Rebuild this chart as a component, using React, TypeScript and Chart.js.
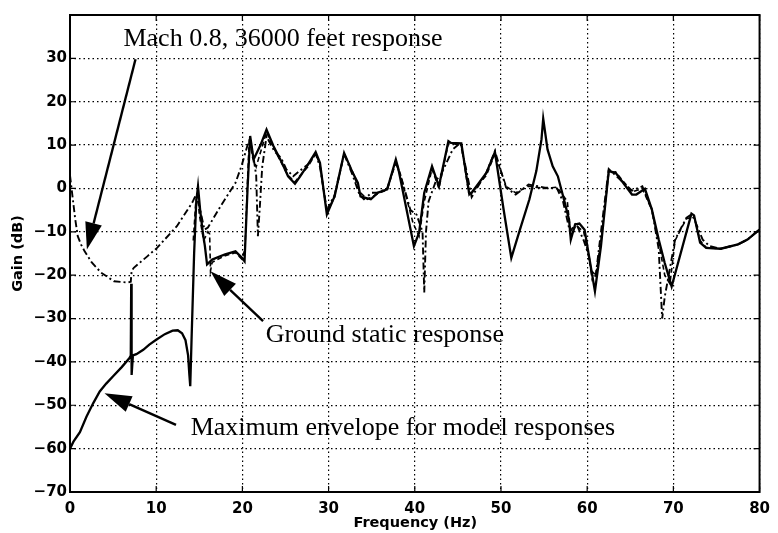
import React, { useEffect, useRef } from "react";
import { Chart, registerables } from "chart.js";

Chart.register(...registerables);

// ---- data ----
const envFreq = [0, 0.4, 1.15, 1.92, 2.7, 3.45, 4.2, 5, 6, 6.9, 7.05, 7.1, 7.15, 7.3, 7.7, 8.5, 9.2, 10, 11, 11.9, 12.5, 13, 13.4, 13.7, 13.85, 13.95, 14.1, 14.4, 14.65, 14.85, 15.1, 15.4, 15.65, 15.9, 16.5, 17.2, 18, 19.2, 19.95, 20.25, 20.6, 20.9, 21.3, 22.1, 22.8, 23.6, 24.5, 25.3, 26.1, 26.7, 27.6, 28.5, 29, 29.8, 30.7, 31.8, 32.8, 33.4, 33.7, 34.9, 35.7, 36.8, 37.8, 38.1, 39.9, 40.5, 41.1, 42, 42.8, 43.9, 44.2, 45.4, 46.3, 46.6, 48.3, 49.3, 50.3, 51.2, 52.2, 53.3, 54.1, 54.7, 54.9, 55.4, 56, 56.6, 57.3, 57.9, 58.1, 58.6, 59.1, 59.7, 60.9, 61.6, 62.5, 63.3, 65.2, 65.7, 66.7, 67.5, 68.3, 69, 69.8, 72.1, 72.4, 73.1, 73.8, 75.5, 77.5, 78.6, 79.8, 80];
const envGain = [-60, -58.4, -56.2, -52.6, -49.5, -46.8, -45, -43.3, -41.2, -39.1, -38.5, -22, -43, -38.5, -38.2, -37.2, -36, -34.9, -33.6, -32.8, -32.7, -33.4, -35, -38.5, -43, -45.6, -35, -15, -3, 0.5, -5, -10, -13.3, -17.5, -16.4, -15.8, -15.2, -14.5, -16, -16.8, 0, 12.1, 6.7, 10, 13.6, 9.8, 6.3, 2.8, 1.1, 2.8, 5.5, 8.4, 5.9, -6, -1.8, 8.2, 3.6, 1.3, -1.8, -2.5, -1, -0.2, 6.7, 4.5, -13.3, -10.2, -1, 5.1, 0.5, 10.9, 10.5, 10.4, -1, -1, 3.6, 8.4, -4.8, -16, -9.5, -2.5, 4, 11.3, 16.1, 9, 5.1, 2.8, -2.5, -7.2, -11.8, -8.3, -8.1, -9.5, -23.7, -13.3, 4, 3.6, -1.4, -1.4, -0.1, -4.8, -11.8, -17.2, -22.6, -5.8, -6.2, -12.5, -13.7, -13.9, -12.9, -11.8, -9.8, -9.5];

const machFreq = [0, 0.3, 0.6, 0.9, 1.3, 1.7, 2.5, 3.6, 5.1, 6.7, 7.05, 7.15, 7.4, 9, 10.1, 12.4, 14.2, 14.6, 15.0, 15.6, 16.0, 17.5, 19.2, 19.9, 20.6, 20.9, 21.3, 21.6, 21.8, 22.0, 22.3, 22.8, 23.7, 24.5, 25.1, 25.9, 26.6, 27.6, 28.5, 29, 29.8, 30.7, 31.8, 32.8, 33.6, 34.1, 35, 35.7, 36.8, 37.8, 38.5, 39.5, 40.2, 40.9, 41.1, 41.3, 41.6, 42.5, 43, 44.4, 45.3, 46, 46.6, 47.2, 48.3, 49.3, 50, 50.6, 51.7, 53.2, 55.1, 56.5, 57.2, 58, 58.7, 59.6, 60.2, 60.6, 61, 61.6, 62.5, 63.3, 65.2, 66.4, 67.5, 68.3, 68.7, 69, 70.2, 71.5, 72.1, 72.4, 73.4, 74.2, 75.5, 77.5, 78.6, 79.8];
const machGain = [3, -2, -7, -11, -13, -14.5, -17, -19.4, -21.4, -21.7, -21.5, -19, -18.3, -15.6, -13.7, -8.7, -3.2, -1.5, -4, -9.5, -9, -4, 1.3, 5.2, 10, 11, 7, 3, -11, -5, 5, 12, 8.6, 7, 4.4, 2.8, 4, 5.5, 8, 5, -5, -1.5, 8, 3, -1.5, -2.5, -1, -1, 0, 6, 2, -5, -6, -10, -24, -10, -3, 2, 3, 9, 10.5, 4, -2, 0, 3.6, 8.6, 4, 0.2, -1.4, 0.9, 0.2, 0, -3, -10, -8, -12, -15.6, -21, -20, -10, 4.5, 3, -0.5, 0.5, -4.8, -14, -30, -25, -11.8, -6.8, -6, -7, -11.8, -13.3, -13.9, -12.9, -11.8, -9.8];

const groundFreq = [14.3, 14.6, 14.8, 15.0, 15.5, 16.0, 16.2, 16.3, 16.5, 18, 19.2, 19.95, 20.3, 20.6, 20.8, 21.2, 21.6, 22.8, 23.6, 24.5, 25.3, 26.1, 26.7, 27.6, 28.5, 29, 29.8, 30.7, 31.8, 32.8, 33.6, 34.5, 35.7, 36.8, 37.8, 38.3, 39.8, 40.5, 41.1, 42, 42.8, 43.9, 45.4, 46.3, 48.3, 49.3, 50.6, 51.7, 53.2, 55.1, 56.5, 57.7, 58.1, 58.7, 59.6, 60.5, 61, 61.6, 62.5, 63.3, 65.2, 66.4, 67.5, 68.3, 69, 69.6, 70.2, 71.5, 72.4, 73.1, 73.8, 75.5, 77.5, 78.6, 80];
const groundGain = [-12, -3, -1, -6, -12, -10, -10.5, -19, -17, -15.5, -14.8, -16.3, -14, 2, 11.5, 7, 5, 13, 9.5, 6, 3, 1.5, 3, 5, 8, 5.5, -5.5, -2, 8, 3.8, -0.8, -2.5, -1.2, -0.3, 6.3, 3.5, -8, -11, -3, 4.5, 0, 10.5, 10, -1.5, 3, 8, 0.5, -1, 0.5, 0, 0.3, -3, -11, -8.5, -10, -19, -20, -12, 3.5, 3.8, -0.8, 0, -5, -12.5, -20, -22, -12, -7, -6.5, -12, -13.6, -13.9, -12.9, -11.8, -9.5];

const xTicks = [0, 10, 20, 30, 40, 50, 60, 70, 80];
const yTicks = [-70, -60, -50, -40, -30, -20, -10, 0, 10, 20, 30];

const labelMach = "Mach 0.8, 36000 feet response";
const labelGround = "Ground static response";
const labelEnvelope = "Maximum envelope for model responses";
const xTitle = "Frequency (Hz)";
const yTitle = "Gain (dB)";

const textPos = [
  { text: labelMach, f: 6.2, g: 32.9 },
  { text: labelGround, f: 22.7, g: -35.3 },
  { text: labelEnvelope, f: 14.0, g: -56.8 },
];
const arrows = [
  [7.6, 29.8, 1.96, -14.1],
  [22.4, -30.6, 16.3, -19.1],
  [12.3, -54.5, 4.0, -47.2],
];

const toXY = (fs: number[], gs: number[]) => fs.map((f, i) => ({ x: f, y: gs[i] }));

const fmt = (v: number) => (v < 0 ? "\u2212" + Math.abs(v) : String(v));

const decor = {
  id: "decor",
  afterDatasetsDraw(chart: any) {
    const ctx = chart.ctx;
    const xs = chart.scales.x;
    const ys = chart.scales.y;
    const a = chart.chartArea;
    ctx.save();
    ctx.strokeStyle = "#000";
    ctx.lineWidth = 2;
    ctx.setLineDash([]);
    ctx.strokeRect(a.left, a.top, a.right - a.left, a.bottom - a.top);
    ctx.lineWidth = 1.2;
    ctx.beginPath();
    xTicks.forEach((t) => {
      const px = xs.getPixelForValue(t);
      ctx.moveTo(px, a.bottom);
      ctx.lineTo(px, a.bottom - 6);
      ctx.moveTo(px, a.top);
      ctx.lineTo(px, a.top + 6);
    });
    yTicks.forEach((t) => {
      const py = ys.getPixelForValue(t);
      ctx.moveTo(a.left, py);
      ctx.lineTo(a.left + 6, py);
      ctx.moveTo(a.right, py);
      ctx.lineTo(a.right - 6, py);
    });
    ctx.stroke();

    ctx.fillStyle = "#000";
    arrows.forEach(([f0, g0, f1, g1]) => {
      const x0 = xs.getPixelForValue(f0), y0 = ys.getPixelForValue(g0);
      const x1 = xs.getPixelForValue(f1), y1 = ys.getPixelForValue(g1);
      const ang = Math.atan2(y1 - y0, x1 - x0);
      const L = 27, W = 8.5;
      const bx = x1 - L * Math.cos(ang), by = y1 - L * Math.sin(ang);
      ctx.lineWidth = 2.4;
      ctx.beginPath();
      ctx.moveTo(x0, y0);
      ctx.lineTo(bx, by);
      ctx.stroke();
      ctx.beginPath();
      ctx.moveTo(x1, y1);
      ctx.lineTo(bx + W * Math.sin(ang), by - W * Math.cos(ang));
      ctx.lineTo(bx - W * Math.sin(ang), by + W * Math.cos(ang));
      ctx.closePath();
      ctx.fill();
    });

    ctx.font = '26px "Liberation Serif"';
    ctx.textBaseline = "alphabetic";
    ctx.textAlign = "left";
    textPos.forEach((t) => {
      ctx.fillText(t.text, xs.getPixelForValue(t.f), ys.getPixelForValue(t.g));
    });

    ctx.font = 'bold 14.5px "DejaVu Sans"';
    ctx.textAlign = "center";
    ctx.textBaseline = "middle";
    ctx.fillText(xTitle, (a.left + a.right) / 2 + 0.5, 523);
    ctx.translate(18, (a.top + a.bottom) / 2);
    ctx.rotate(-Math.PI / 2);
    ctx.fillText(yTitle, 0, 0);
    ctx.restore();
  },
};

export default function App() {
  const ref = useRef<HTMLCanvasElement | null>(null);
  useEffect(() => {
    if (!ref.current) return;
    const common = { pointRadius: 0, tension: 0, borderColor: "#000", fill: false };
    const chart = new Chart(ref.current, {
      type: "line",
      data: {
        datasets: [
          { ...common, label: "Maximum envelope", data: toXY(envFreq, envGain), borderWidth: 2.3 },
          { ...common, label: "Mach 0.8", data: toXY(machFreq, machGain), borderWidth: 1.9, borderDash: [7, 3, 2, 3] },
          { ...common, label: "Ground static", data: toXY(groundFreq, groundGain), borderWidth: 1.6, borderDash: [5, 3] },
        ],
      },
      options: {
        animation: false,
        responsive: false,
        maintainAspectRatio: false,
        devicePixelRatio: 1,
        layout: { padding: { left: 0, right: 13, top: 15, bottom: 0 } },
        plugins: { legend: { display: false }, tooltip: { enabled: false } },
        scales: {
          x: {
            type: "linear",
            min: 0,
            max: 80,
            afterBuildTicks: (s: any) => { s.ticks = xTicks.map((v) => ({ value: v })); },
            afterFit: (s: any) => { s.height = 41; },
            ticks: {
              color: "#000",
              font: { family: "DejaVu Sans", weight: "bold", size: 15 },
              padding: 8,
              maxRotation: 0,
              callback: (v: any) => fmt(Number(v)),
            },
            grid: { color: "#000", lineWidth: 1.2, drawTicks: false },
            border: { display: false, dash: [1.5, 3] },
          },
          y: {
            type: "linear",
            min: -70,
            max: 40,
            afterBuildTicks: (s: any) => { s.ticks = [...yTicks, 40].map((v) => ({ value: v })); },
            afterFit: (s: any) => { s.width = 70; },
            ticks: {
              color: "#000",
              font: { family: "DejaVu Sans", weight: "bold", size: 15 },
              padding: 3,
              callback: (v: any) => (Number(v) === 40 ? "" : fmt(Number(v))),
            },
            grid: { color: "#000", lineWidth: 1.2, drawTicks: false },
            border: { display: false, dash: [1.5, 3] },
          },
        },
      },
      plugins: [decor],
    });
    return () => chart.destroy();
  }, []);
  return (
    <div style={{ position: "absolute", left: 0, top: 0, width: 778, height: 533, background: "#fff" }}>
      <canvas ref={ref} width={778} height={533} />
    </div>
  );
}
